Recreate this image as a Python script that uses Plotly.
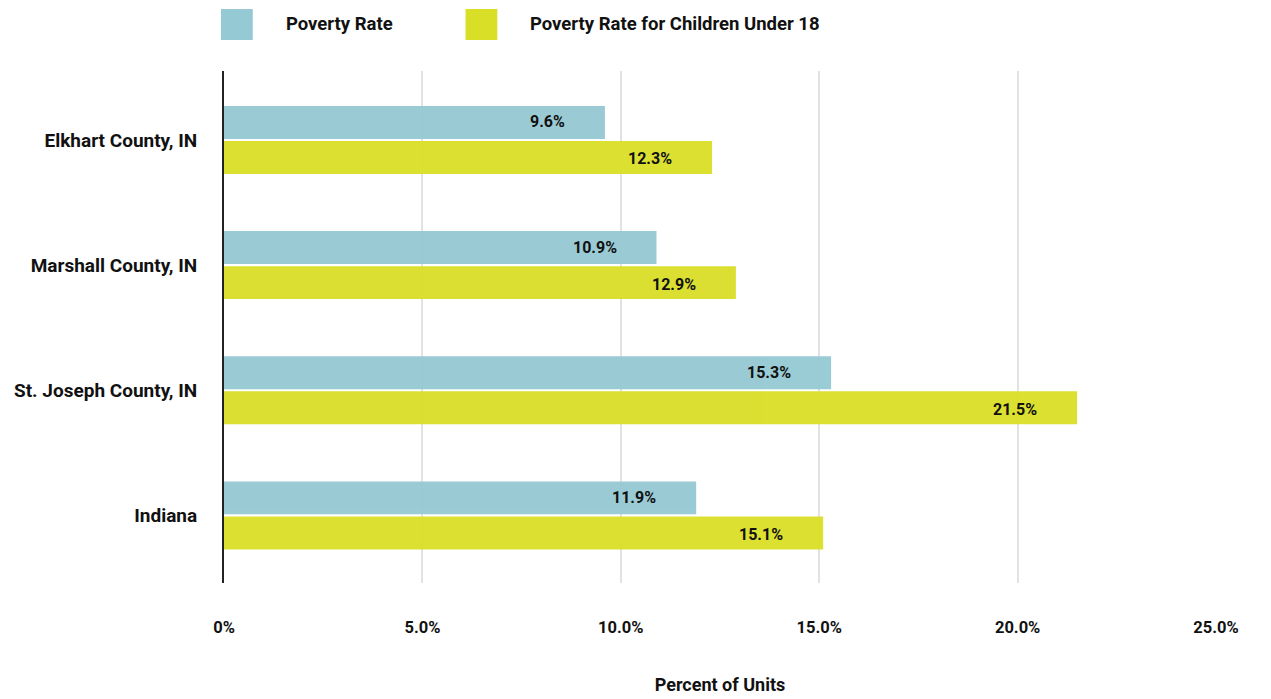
import plotly.graph_objects as go

categories = ["Elkhart County, IN", "Marshall County, IN", "St. Joseph County, IN", "Indiana"]
poverty_rate = [9.6, 10.9, 15.3, 11.9]
child_poverty_rate = [12.3, 12.9, 21.5, 15.1]
series_names = ["Poverty Rate", "Poverty Rate for Children Under 18"]
tick_vals = [0, 5, 10, 15, 20, 25]
tick_text = ["0%", "5.0%", "10.0%", "15.0%", "20.0%", "25.0%"]

colors = ["#95C9D3", "#D9DE26"]
FONT = "Roboto, Arial"

fig = go.Figure()
for name, vals, col in zip(series_names, [poverty_rate, child_poverty_rate], colors):
    fig.add_trace(go.Bar(
        y=categories, x=vals, name=name, orientation="h",
        marker=dict(color=col, line=dict(width=0)), opacity=0.95,
        showlegend=False, hoverinfo="x+y",
    ))

# value labels
for i, vals in enumerate([poverty_rate, child_poverty_rate]):
    for c, v in zip(categories, vals):
        fig.add_annotation(
            x=v, y=c, text=f"<b>{v:.1f}%</b>", showarrow=False,
            xanchor="right", xshift=-38, yshift=(18 if i == 0 else -19),
            font=dict(family=FONT, size=16, color="#111"),
        )

# custom legend
legend_items = [(-0.003, 0.0605, series_names[0], colors[0]),
                (0.2435, 0.3065, series_names[1], colors[1])]
for x0, xt, name, col in legend_items:
    fig.add_shape(type="rect", xref="paper", yref="paper",
                  x0=x0, x1=x0 + 0.032, y0=1.0605, y1=1.121,
                  fillcolor=col, line=dict(width=0))
    fig.add_annotation(xref="paper", yref="paper", x=xt, y=1.0918,
                       text=f"<b>{name}</b>", showarrow=False, xanchor="left",
                       yanchor="middle",
                       font=dict(family=FONT, size=18.5, color="#111"))

fig.update_layout(
    width=1263, height=691,
    margin=dict(l=216, r=55, t=63, b=116),
    plot_bgcolor="white", paper_bgcolor="white",
    barmode="group", bargap=0.44, bargroupgap=0.06,
    font=dict(family=FONT, color="#111"),
    xaxis=dict(
        range=[0, 25], tickvals=tick_vals, ticktext=[f"<b>{t}</b>" for t in tick_text],
        showgrid=True, gridcolor="#E2E2E2", gridwidth=2, zeroline=False,
        showline=False, ticks="", ticklabelstandoff=32, automargin=False,
        tickfont=dict(family=FONT, size=16.5, color="#111"),
        title=dict(text="<b>Percent of Units</b>", standoff=42,
                   font=dict(family=FONT, size=18, color="#111")),
        fixedrange=True,
    ),
    yaxis=dict(
        range=[3.54, -0.551], showgrid=False, showline=True, linecolor="#222",
        linewidth=2, ticks="", ticklabelstandoff=21, automargin=False,
        tickfont=dict(family=FONT, size=19, color="#111"),
        tickvals=categories, ticktext=[f"<b>{c}</b>" for c in categories],
    ),
)

fig.write_html("out.html")
